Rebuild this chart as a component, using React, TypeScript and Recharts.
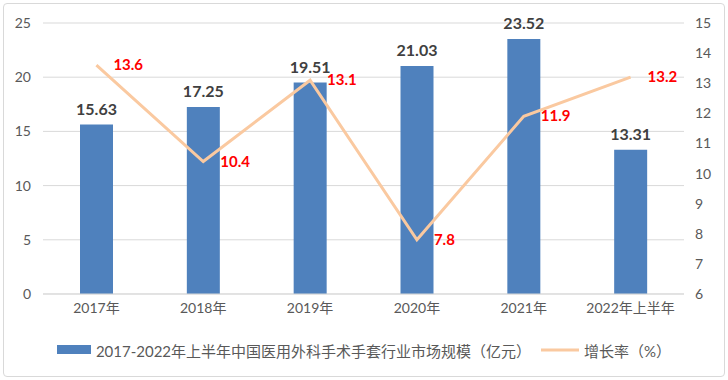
import { ComposedChart, Bar, Line, XAxis, YAxis, CartesianGrid, LabelList, Legend } from "recharts";

const years = ["2017年", "2018年", "2019年", "2020年", "2021年", "2022年上半年"];
const marketSize = [15.63, 17.25, 19.51, 21.03, 23.52, 13.31];
const growthRate = [13.6, 10.4, 13.1, 7.8, 11.9, 13.2];
const leftTicks = [0, 5, 10, 15, 20, 25];
const rightTicks = [6, 7, 8, 9, 10, 11, 12, 13, 14, 15];

const barName = "2017-2022年上半年中国医用外科手术手套行业市场规模（亿元）";
const lineName = "增长率（%）";

const data = years.map((name, i) => ({ name, size: marketSize[i], rate: growthRate[i] }));

const FONT = "Lato, 'Noto Sans CJK SC', sans-serif";
const BAR_COLOR = "#4F81BD";
const LINE_COLOR = "#FAC9A0";

const RateLabel = (props: any) => {
  const { x, y, value } = props;
  return (
    <text x={x + 17} y={y} dy={5} fill="#FF0000" fontSize={15} fontWeight="bold" fontFamily={FONT}>
      {value}
    </text>
  );
};

const LegendContent = () => (
  <div
    style={{
      display: "flex",
      justifyContent: "center",
      alignItems: "center",
      fontFamily: FONT,
      fontSize: 15,
      color: "#595959",
      height: 20,
    }}
  >
    <svg width={34} height={10} style={{ marginRight: 5 }}>
      <rect x={0} y={0} width={34} height={9} fill={BAR_COLOR} />
    </svg>
    <span>{barName}</span>
    <svg width={38} height={10} style={{ marginLeft: 10, marginRight: 5 }}>
      <line x1={0} y1={5} x2={38} y2={5} stroke={LINE_COLOR} strokeWidth={3} />
    </svg>
    <span>{lineName}</span>
  </div>
);

export default function App() {
  return (
    <div style={{ position: "absolute", left: 0, top: 0, width: 728, height: 380, background: "#fff" }}>
      <div
        style={{
          position: "absolute",
          left: 3,
          top: 3,
          width: 720,
          height: 372,
          border: "1px solid #D9D9D9",
          borderRadius: 4,
        }}
      />
      <ComposedChart
        width={728}
        height={380}
        data={data}
        margin={{ top: 23, right: 0, bottom: 0, left: 0 }}
      >
        <CartesianGrid yAxisId="left" vertical={false} stroke="#D9D9D9" />
        <XAxis
          dataKey="name"
          height={66}
          axisLine={{ stroke: "#D9D9D9" }}
          tickLine={false}
          tickMargin={3}
          tick={{ fill: "#595959", fontSize: 14, fontFamily: FONT }}
        />
        <YAxis
          yAxisId="left"
          domain={[0, 25]}
          ticks={leftTicks}
          width={43}
          axisLine={false}
          tickLine={false}
          tickMargin={6}
          tick={{ fill: "#595959", fontSize: 14, fontFamily: FONT }}
        />
        <YAxis
          yAxisId="right"
          orientation="right"
          domain={[6, 15]}
          ticks={rightTicks}
          width={44}
          axisLine={false}
          tickLine={false}
          tickMargin={5}
          tick={{ fill: "#595959", fontSize: 14, fontFamily: FONT, textAnchor: "start" }}
        />
        <Legend
          content={<LegendContent />}
          wrapperStyle={{ position: "absolute", top: 340, left: 0, width: 728 }}
        />
        <Bar yAxisId="left" dataKey="size" name={barName} fill={BAR_COLOR} barSize={33} isAnimationActive={false}>
          <LabelList
            dataKey="size"
            position="top"
            offset={10}
            fill="#404040"
            fontSize={16}
            fontWeight="bold"
            fontFamily={FONT}
          />
        </Bar>
        <Line
          yAxisId="right"
          dataKey="rate"
          name={lineName}
          stroke={LINE_COLOR}
          strokeWidth={3}
          dot={false}
          activeDot={false}
          isAnimationActive={false}
        >
          <LabelList dataKey="rate" content={<RateLabel />} />
        </Line>
      </ComposedChart>
    </div>
  );
}
